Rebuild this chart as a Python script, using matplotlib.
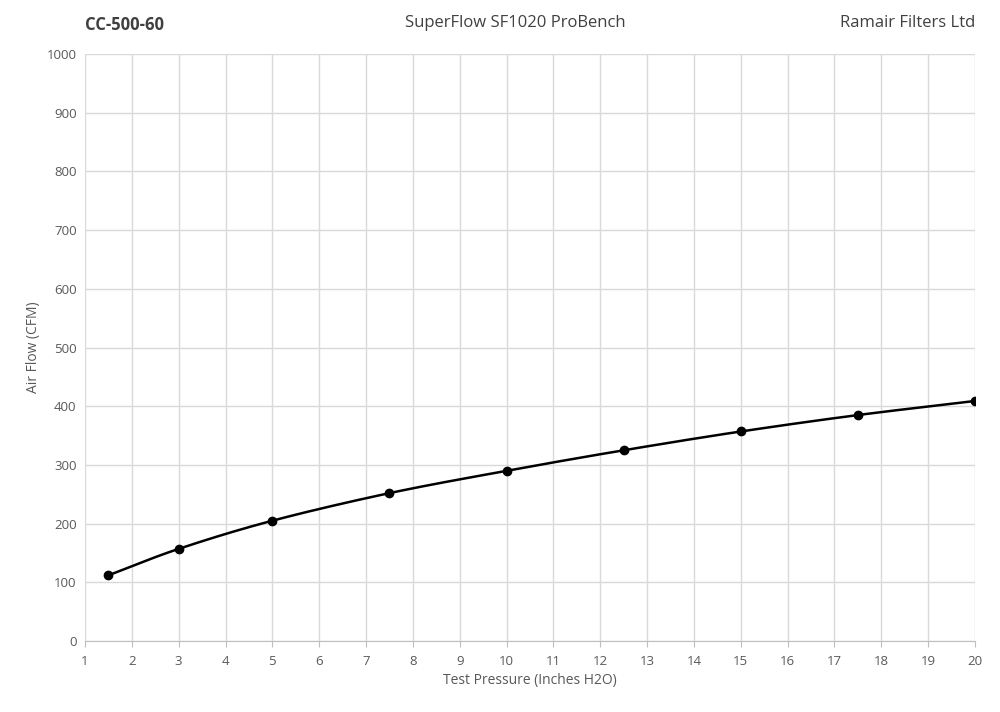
import matplotlib.pyplot as plt
import numpy as np

pressure = [1.5, 3, 5, 7.5, 10, 12.5, 15, 17.5, 20]
airflow = [112, 157, 205, 252, 290, 325, 357, 385, 409]

plt.rcParams['font.family'] = ['Open Sans', 'DejaVu Sans']


def catmull_rom(x, y, n=30):
    # smooth curve through the points, like Excel's smoothed line
    x = np.asarray(x, float)
    y = np.asarray(y, float)
    px = np.concatenate([[2 * x[0] - x[1]], x, [2 * x[-1] - x[-2]]])
    py = np.concatenate([[2 * y[0] - y[1]], y, [2 * y[-1] - y[-2]]])
    xs, ys = [], []
    t = np.linspace(0, 1, n)
    for i in range(1, len(px) - 2):
        for p, out in ((px, xs), (py, ys)):
            p0, p1, p2, p3 = p[i - 1], p[i], p[i + 1], p[i + 2]
            out.extend(0.5 * (2 * p1 + (-p0 + p2) * t
                              + (2 * p0 - 5 * p1 + 4 * p2 - p3) * t ** 2
                              + (-p0 + 3 * p1 - 3 * p2 + p3) * t ** 3))
    return xs, ys


fig = plt.figure(figsize=(10, 7.12), dpi=100)
ax = fig.add_axes([0.085, 0.0997, 0.89, 0.8243])

sx, sy = catmull_rom(pressure, airflow)
ax.plot(sx, sy, color='black', lw=1.8, zorder=3)
ax.plot(pressure, airflow, 'o', color='black', ms=6, zorder=4)

ax.set_xlim(1, 20)
ax.set_ylim(0, 1000)
ax.set_xticks(range(1, 21))
ax.set_yticks(range(0, 1001, 100))
ax.grid(True, color='#d9d9d9', lw=1)
ax.set_axisbelow(True)
for s in ['top', 'right', 'left']:
    ax.spines[s].set_visible(False)
ax.spines['bottom'].set_color('#bfbfbf')
ax.tick_params(length=0, labelsize=9.5, colors='#595959', pad=6)
ax.tick_params(axis='x', length=4, color='#bfbfbf')
ax.set_xlabel('Test Pressure (Inches H2O)', fontsize=10, color='#595959')
ax.set_ylabel('Air Flow (CFM)', fontsize=10, color='#595959')

fig.text(0.085, 0.965, 'CC-500-60', fontsize=12, fontweight='bold', color='#404040', va='center')
fig.text(0.515, 0.968, 'SuperFlow SF1020 ProBench', fontsize=12, color='#404040', ha='center', va='center')
fig.text(0.975, 0.968, 'Ramair Filters Ltd', fontsize=12, color='#404040', ha='right', va='center')

fig.savefig('out.png', dpi=100)
